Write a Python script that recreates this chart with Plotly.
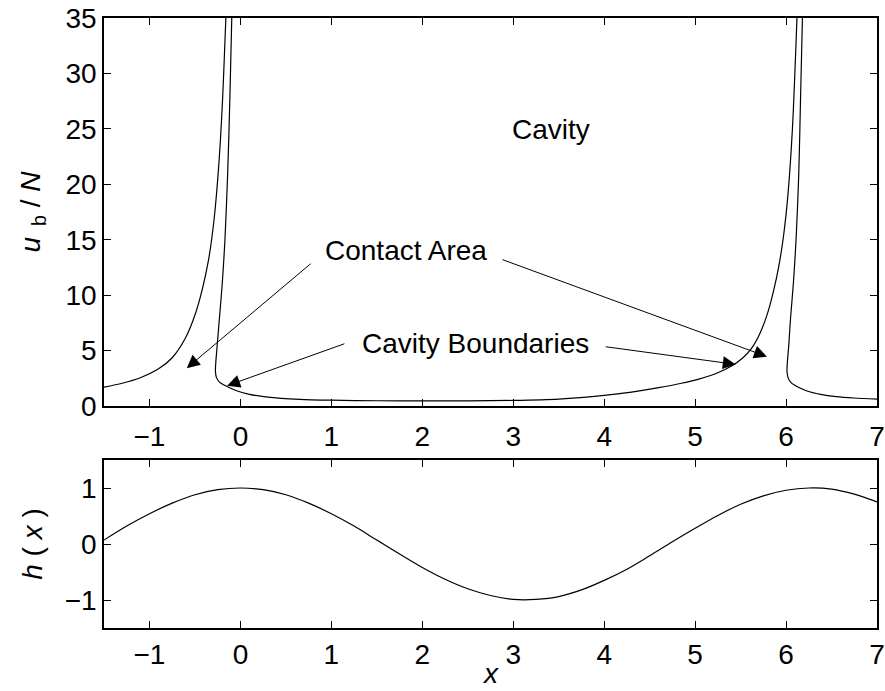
import plotly.graph_objects as go

# ---- data -------------------------------------------------------------
# Curve through the left contact region and the right cavity boundary
curve_a_left_x = [-1.5, -1.3, -1.1, -0.9, -0.75, -0.6, -0.5, -0.42, -0.35, -0.29, -0.24, -0.2, -0.16]
curve_a_left_y = [1.70, 2.05, 2.55, 3.35, 4.35, 6.2, 8.2, 10.5, 13.2, 16.8, 21.5, 27.0, 35.0]
curve_a_right_x = [6.18, 6.16, 6.14, 6.11, 6.08, 6.05, 6.03, 6.015, 6.01, 6.02, 6.05, 6.12,
                   6.23, 6.38, 6.55, 6.75, 7.0]
curve_a_right_y = [35.0, 28.0, 21.0, 15.0, 11.0, 8.0, 5.5, 4.0, 3.2, 2.6, 2.15, 1.75,
                   1.35, 1.05, 0.85, 0.72, 0.62]

# Curve bounding the cavity from below
curve_b_x = [-0.095, -0.115, -0.14, -0.17, -0.2, -0.23, -0.255, -0.27, -0.275, -0.265, -0.23,
             -0.157, -0.05, 0.1, 0.3, 0.65, 1.0, 1.5, 2.0, 2.5, 3.0, 3.5, 4.0, 4.3, 4.6, 4.85,
             5.05, 5.25, 5.4, 5.52, 5.62, 5.71, 5.79, 5.86, 5.92, 5.97, 6.02, 6.07, 6.12]
curve_b_y = [35.0, 28.0, 21.0, 15.0, 11.0, 8.0, 5.5, 4.0, 3.2, 2.6, 2.15,
             1.8, 1.4, 1.05, 0.8, 0.6, 0.52, 0.47, 0.45, 0.46, 0.5, 0.62, 0.95, 1.25, 1.65, 2.05,
             2.45, 3.0, 3.6, 4.3, 5.2, 6.5, 8.2, 10.3, 12.6, 15.2, 19.0, 25.0, 35.0]

# Surface profile h(x)
h_x = [-1.5, -1.25, -1.0, -0.75, -0.5, -0.25, 0.0, 0.25, 0.5, 0.75, 1.0, 1.25, 1.5, 1.75,
       2.0, 2.25, 2.5, 2.75, 3.0, 3.25, 3.5, 3.75, 4.0, 4.25, 4.5, 4.75, 5.0, 5.25, 5.5,
       5.75, 6.0, 6.25, 6.5, 6.75, 7.0]
h_y = [0.07, 0.32, 0.54, 0.73, 0.88, 0.97, 1.00, 0.97, 0.88, 0.73, 0.54, 0.32, 0.07, -0.18,
       -0.42, -0.63, -0.80, -0.92, -0.99, -0.99, -0.94, -0.82, -0.65, -0.45, -0.21, 0.04,
       0.28, 0.51, 0.71, 0.86, 0.96, 1.00, 0.98, 0.89, 0.75]

x_ticks = [-1, 0, 1, 2, 3, 4, 5, 6, 7]
u_ticks = [0, 5, 10, 15, 20, 25, 30, 35]
h_ticks = [-1, 0, 1]

# Labels and the arrows pointing from them: (text, x, y)
labels = [("Cavity", 3.42, 24.9), ("Contact Area", 1.82, 14.0), ("Cavity Boundaries", 2.58, 5.66)]
# (tail x, tail y, head x, head y)
arrows = [
    (0.788, 12.94, -0.59, 3.41),
    (2.865, 13.25, 5.79, 4.45),
    (1.16, 5.66, -0.146, 1.83),
    (4.0, 5.36, 5.447, 3.75),
]

# ---- figure -----------------------------------------------------------
FONT = "Liberation Sans, Arial, Helvetica, sans-serif"
FS = 28
line = dict(color="black", width=1.2)

fig = go.Figure()
fig.add_trace(go.Scatter(x=curve_a_left_x + [None] + curve_a_right_x,
                         y=curve_a_left_y + [None] + curve_a_right_y,
                         mode="lines", line=dict(shape="spline", smoothing=0.8, **line),
                         xaxis="x", yaxis="y", showlegend=False))
fig.add_trace(go.Scatter(x=curve_b_x, y=curve_b_y, mode="lines",
                         line=dict(shape="spline", smoothing=0.8, **line),
                         xaxis="x", yaxis="y", showlegend=False))
fig.add_trace(go.Scatter(x=h_x, y=h_y, mode="lines",
                         line=dict(shape="spline", smoothing=1.0, **line),
                         xaxis="x2", yaxis="y2", showlegend=False))

axis_common = dict(
    showline=True, linecolor="black", linewidth=1.5, mirror="allticks",
    ticks="inside", ticklen=7, tickwidth=1, tickcolor="black",
    showgrid=False, zeroline=False, automargin=False,
    tickfont=dict(family=FONT, size=FS, color="black"),
)

fig.update_layout(
    width=885, height=691,
    margin=dict(l=104, r=8, t=18, b=63),
    paper_bgcolor="white", plot_bgcolor="white",
    font=dict(family=FONT, size=FS, color="black"),
    xaxis=dict(domain=[0, 1], range=[-1.5, 7], tickvals=x_ticks, anchor="y",
               ticklabelstandoff=5, **axis_common),
    yaxis=dict(domain=[0.364, 1], range=[0, 35], tickvals=u_ticks, anchor="x",
               title=dict(text="<i>u</i><sub>  b</sub> / <i>N</i>", standoff=17,
                          font=dict(family=FONT, size=FS)),
               **axis_common),
    xaxis2=dict(domain=[0, 1], range=[-1.5, 7], tickvals=x_ticks, anchor="y2",
                ticklabelstandoff=1, **axis_common),
    yaxis2=dict(domain=[0, 0.2754], range=[-1.5, 1.5], tickvals=h_ticks, anchor="x2",
                title=dict(text="<i>h</i> ( <i>x</i> )", standoff=14,
                           font=dict(family=FONT, size=FS)),
                **axis_common),
)

# x-axis title of the lower panel, set just under its tick labels
fig.add_annotation(x=2.75, xref="x2", y=0, yref="paper", yanchor="bottom", yshift=-62,
                   text="<i>x</i>", showarrow=False, borderpad=0,
                   font=dict(family=FONT, size=FS, color="black"))

for text, tx, ty in labels:
    fig.add_annotation(x=tx, y=ty, xref="x", yref="y", text=text, showarrow=False,
                       font=dict(family=FONT, size=FS, color="black"))

for tx, ty, hx, hy in arrows:
    fig.add_annotation(x=hx, y=hy, ax=tx, ay=ty, xref="x", yref="y", axref="x", ayref="y",
                       text="", showarrow=True, arrowhead=2, arrowsize=2.6, arrowwidth=1,
                       arrowcolor="black")

fig.write_html("out.html")
